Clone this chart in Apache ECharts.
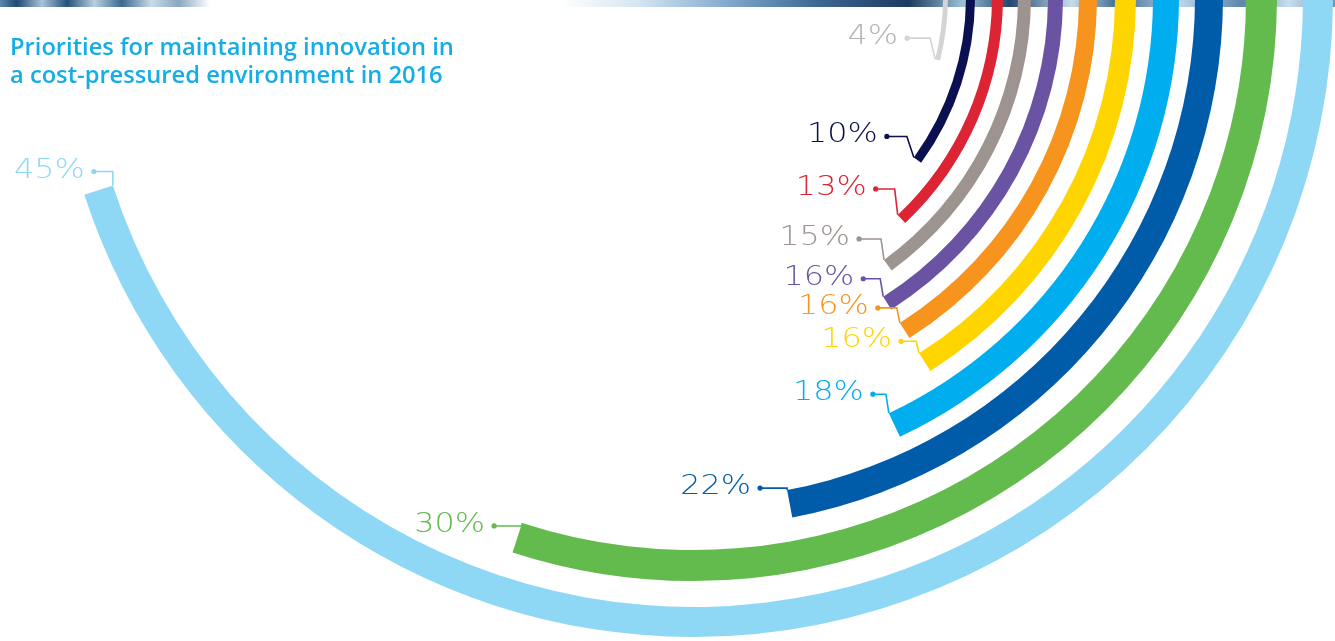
<!DOCTYPE html>
<html>
<head>
<meta charset="utf-8">
<script src="https://cdn.jsdelivr.net/npm/echarts@6/dist/echarts.min.js"></script>
<style>
  html, body { margin: 0; padding: 0; background: #ffffff; }
  #chart { width: 1335px; height: 641px; }
</style>
</head>
<body>
<div id="chart"></div>
<script>
// Priorities, innermost ring first: share of respondents (%)
const labels = ['4%', '10%', '13%', '15%', '16%', '16%', '16%', '18%', '22%', '30%', '45%'];
const values = [4, 10, 13, 15, 16, 16, 16, 18, 22, 30, 45];
const ringColors = ['#d4d4d4', '#0b1050', '#dd2434', '#9d9490', '#6b53a4', '#f7941e',
                    '#ffd500', '#00aeef', '#005ca9', '#62bb4c', '#8ed8f6'];
const labelColors = ['#b3b3b3', '#0b1050', '#dd2434', '#9d9490', '#6b53a4', '#f7941e',
                     '#ffd500', '#00aeef', '#005ca9', '#62bb4c', '#8ed8f6'];

// Ring geometry in px (inner / outer radius of each ring)
const ringInner = [250, 273, 299, 325, 355, 386, 422, 460, 502, 553, 610];
const ringOuter = [255, 282, 310, 338, 370, 404, 443, 486, 530, 584, 640];
// Leader-line layout for each value label, measured from the ring's end
const labelRise = [21, 21, 26, 21, 18, 15, 12, 19, 2, -3, 14];
const elbowDx   = [5, 7, 3, 3, 3, 3, 3, 3, 0, 0, 0];
const leadLen   = [23, 20, 19, 22, 17, 19, 15, 13, 27, 28, 19];

const CENTER = [693, -3];

const chart = echarts.init(document.getElementById('chart'), null, { renderer: 'canvas' });

const hidden = {
  axisLine: { show: false }, axisTick: { show: false },
  axisLabel: { show: false }, splitLine: { show: false }
};

const option = {
  animation: false,
  backgroundColor: '#ffffff',
  title: {
    text: 'Priorities for maintaining innovation in\na cost-pressured environment in 2016',
    left: 5,
    top: 29,
    textStyle: {
      fontFamily: '"Open Sans"',
      fontWeight: 600,
      fontSize: 23.7,
      lineHeight: 28,
      color: '#14ade6'
    }
  },
  polar: values.map((_, i) => ({ center: CENTER, radius: [ringInner[i], ringOuter[i]] })),
  angleAxis: values.map((_, i) => Object.assign({
    polarIndex: i, type: 'value', min: 0, max: 100, startAngle: 0, clockwise: true
  }, hidden)),
  radiusAxis: values.map((_, i) => Object.assign({
    polarIndex: i, type: 'category', data: [labels[i]]
  }, hidden)),
  series: values.map((v, i) => ({
    type: 'bar',
    coordinateSystem: 'polar',
    polarIndex: i,
    data: [v],
    barWidth: '100%',
    silent: true,
    itemStyle: { color: ringColors[i] }
  }))
};

chart.setOption(option);

// Decorative photo strip along the top edge
const elements = [
  {
    type: 'rect', z: 1, silent: true,
    shape: { x: 0, y: 0, width: 210, height: 7 },
    style: {
      fill: new echarts.graphic.LinearGradient(0, 0, 1, 0, [
        { offset: 0, color: '#5d88ad' }, { offset: 0.08, color: '#1e4a74' },
        { offset: 0.2, color: '#a9c3d8' }, { offset: 0.32, color: '#24527c' },
        { offset: 0.45, color: '#b9cfe0' }, { offset: 0.58, color: '#3a6890' },
        { offset: 0.72, color: '#c9dbe8' }, { offset: 0.85, color: '#8aa8c2' },
        { offset: 1, color: '#ffffff' }
      ])
    }
  },
  {
    type: 'rect', z: 1, silent: true,
    shape: { x: 560, y: 0, width: 775, height: 7 },
    style: {
      fill: new echarts.graphic.LinearGradient(0, 0, 1, 0, [
        { offset: 0, color: '#ffffff' }, { offset: 0.1, color: '#d6e6f2' },
        { offset: 0.22, color: '#7fa7cb' }, { offset: 0.33, color: '#3e6994' },
        { offset: 0.45, color: '#1b3a60' }, { offset: 0.52, color: '#9cc2d8' },
        { offset: 0.58, color: '#24476e' }, { offset: 0.66, color: '#c6dcea' },
        { offset: 0.72, color: '#3f6a92' }, { offset: 0.8, color: '#bcd6ea' },
        { offset: 0.88, color: '#5e86ad' }, { offset: 0.94, color: '#c9def0' },
        { offset: 1, color: '#6d93ba' }
      ])
    }
  }
];

// Value labels with leader lines ending at the inner corner of each ring's end
values.forEach((v, i) => {
  const mid = chart.convertToPixel({ seriesIndex: i }, [0, v]);
  const dx = mid[0] - CENTER[0];
  const dy = mid[1] - CENTER[1];
  const len = Math.sqrt(dx * dx + dy * dy);
  const corner = [CENTER[0] + dx / len * ringInner[i], CENTER[1] + dy / len * ringInner[i]];
  const ly = corner[1] - labelRise[i];
  const elbow = [corner[0] - elbowDx[i], ly];
  const dot = [elbow[0] - leadLen[i], ly];
  const lineColor = i === 0 ? '#d4d4d4' : labelColors[i];

  elements.push({
    type: 'polyline', z: 5, silent: true,
    shape: { points: [dot, elbow, corner] },
    style: { stroke: lineColor, lineWidth: 1.6, fill: null }
  });
  elements.push({
    type: 'circle', z: 6, silent: true,
    shape: { cx: dot[0], cy: dot[1], r: 2.6 },
    style: { fill: lineColor }
  });
  elements.push({
    type: 'text', z: 6, silent: true,
    x: dot[0] - 9, y: ly - 1,
    scaleX: 1.18, scaleY: 1,
    style: {
      text: labels[i],
      fill: labelColors[i],
      font: '200 27px "DejaVu Sans"',
      align: 'right', verticalAlign: 'middle',
      textAlign: 'right', textVerticalAlign: 'middle'
    }
  });
});

chart.setOption({ graphic: { elements: elements } });
</script>
</body>
</html>
